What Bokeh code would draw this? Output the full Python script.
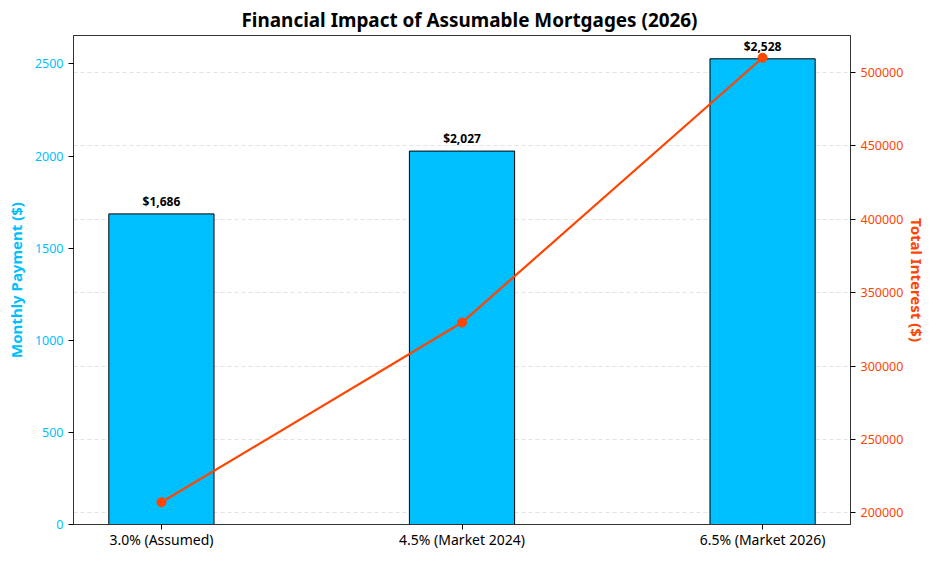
from bokeh.plotting import figure
from bokeh.models import Range1d, LinearAxis, FixedTicker, ColumnDataSource, LabelSet, Title, Grid, BasicTickFormatter
from bokeh.core.properties import value
from bokeh.embed import file_html
from bokeh.resources import INLINE

categories = ["3.0% (Assumed)", "4.5% (Market 2024)", "6.5% (Market 2026)"]
monthly_payment = [1686, 2027, 2528]
total_interest = [207111, 329626, 510178]
payment_labels = ["$1,686", "$2,027", "$2,528"]
left_ticks = [0, 500, 1000, 1500, 2000, 2500]
right_ticks = [200000, 250000, 300000, 350000, 400000, 450000, 500000]

BLUE = "#00BFFF"
RED = "#FF4500"
FONT = "Noto Sans"

xs = list(range(len(categories)))
src = ColumnDataSource(dict(x=xs, pay=monthly_payment, interest=total_interest, lab=payment_labels))

p = figure(frame_width=777, frame_height=489, output_backend="svg", toolbar_location=None,
           x_range=Range1d(-0.2925, 2.2925), y_range=Range1d(0, 2654.4),
           min_border_left=73, min_border_right=70, min_border_top=35, min_border_bottom=22)
p.extra_y_ranges = {"interest": Range1d(191958, 525331)}

p.title = Title(text="Financial Impact of Assumable Mortgages (2026)", align="left",
                text_font=FONT, text_font_size="18.9px", text_font_style="bold",
                text_color="black", offset=168, standoff=6)

p.vbar(x="x", top="pay", width=0.35, source=src, fill_color=BLUE, line_color="black", line_width=1)
p.add_layout(LabelSet(x="x", y="pay", text="lab", source=src, y_offset=4, text_align="center",
                      text_baseline="bottom", text_font=value(FONT), text_font_size="12px",
                      text_font_style="bold", text_color="black"))

p.line(x="x", y="interest", source=src, y_range_name="interest", line_color=RED, line_width=2.2)
p.scatter(x="x", y="interest", source=src, y_range_name="interest", size=9, fill_color=RED, line_color=RED)

# axes
p.xaxis.ticker = FixedTicker(ticks=xs)
p.xaxis.major_label_overrides = {i: c for i, c in enumerate(categories)}
p.xaxis.major_label_text_font = FONT
p.xaxis.major_label_text_font_size = "14px"
p.xaxis.major_label_text_color = "black"
p.xaxis.minor_tick_line_color = None
p.xaxis.major_tick_out = 5
p.xaxis.major_tick_in = 0
p.xaxis.major_label_standoff = 0
p.xaxis.axis_line_color = "#333333"

ya = p.yaxis[0]
ya.ticker = FixedTicker(ticks=left_ticks)
ya.axis_label = "Monthly Payment ($)"
ya.axis_label_text_color = BLUE
ya.axis_label_text_font = FONT
ya.axis_label_text_font_size = "15px"
ya.axis_label_text_font_style = "bold"
ya.axis_label_standoff = 6
ya.major_label_text_color = BLUE
ya.major_label_text_font = FONT
ya.major_label_text_font_size = "12.5px"
ya.minor_tick_line_color = None
ya.major_tick_out = 5
ya.major_tick_in = 0
ya.axis_line_color = "#333333"

ra = LinearAxis(y_range_name="interest", ticker=FixedTicker(ticks=right_ticks),
                formatter=BasicTickFormatter(use_scientific=False))
ra.axis_label = "Total Interest ($)"
ra.axis_label_text_color = RED
ra.axis_label_text_font = FONT
ra.axis_label_text_font_size = "15px"
ra.axis_label_text_font_style = "bold"
ra.axis_label_standoff = 1
ra.major_label_text_color = RED
ra.major_label_text_font = FONT
ra.major_label_text_font_size = "12.5px"
ra.minor_tick_line_color = None
ra.major_tick_out = 5
ra.major_tick_in = 0
ra.axis_line_color = "#333333"
p.add_layout(ra, "right")

p.xgrid.grid_line_color = None
p.ygrid.grid_line_color = None
g = Grid(dimension=1, ticker=ra.ticker, y_range_name="interest",
         grid_line_color="#dddddd", grid_line_dash="4 3", grid_line_width=1, grid_line_alpha=0.8)
p.add_layout(g)

p.outline_line_color = "#333333"
p.outline_line_width = 1
p.background_fill_color = "white"
p.border_fill_color = "white"

open("out.html", "w").write(file_html(p, INLINE))
